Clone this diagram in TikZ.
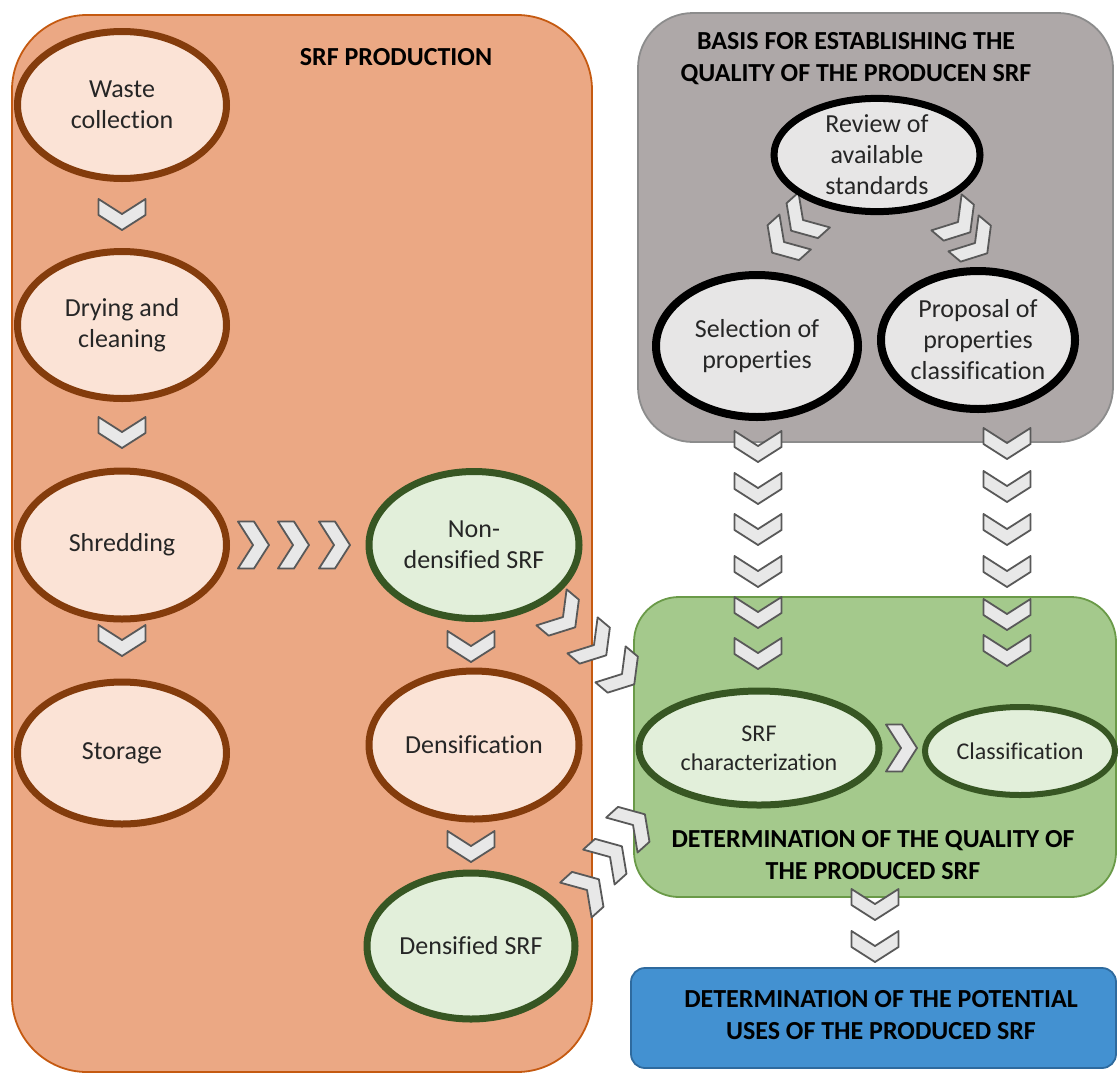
\documentclass[tikz,border=0pt]{standalone}
\usepackage{fontspec}
\setmainfont{Carlito}[Ligatures=NoCommon]
\usetikzlibrary{shapes.geometric}
\definecolor{orfill}{HTML}{EBA884}
\definecolor{orline}{HTML}{C55A11}
\definecolor{peach}{HTML}{FBE3D6}
\definecolor{brown}{HTML}{843C0C}
\definecolor{lgreen}{HTML}{E2EFDA}
\definecolor{dgreen}{HTML}{375623}
\definecolor{grfill}{HTML}{AEA8A8}
\definecolor{grline}{HTML}{8C8C8C}
\definecolor{lgray}{HTML}{E7E6E6}
\definecolor{gnfill}{HTML}{A4C98C}
\definecolor{gnline}{HTML}{6A9A48}
\definecolor{blfill}{HTML}{4391D1}
\definecolor{blline}{HTML}{2E6A9E}
\definecolor{chfill}{HTML}{E8E8E8}
\definecolor{chline}{HTML}{595959}
\definecolor{txt}{HTML}{262626}
\tikzset{
  region/.style={draw, line width=1.8pt, rounded corners=#1},
  ell/.style={ellipse, line width=7pt, inner sep=0pt, align=center, text=txt,
    font=\fontsize{26}{31}\selectfont},
  orell/.style={ell, draw=brown, fill=peach},
  gnell/.style={ell, draw=dgreen, fill=lgreen},
  grell/.style={ell, draw=black, fill=lgray},
  title/.style={align=center, font=\bfseries\fontsize{26}{32}\selectfont, text=black},
  chevstyle/.style={draw=chline, fill=chfill, line width=1.8pt, line join=round},
  chev/.pic={\path[chevstyle] (-15,23.5)--(1,23.5)--(16,0)--(1,-23.5)--(-15,-23.5)--(0,0)--cycle;}
}
\begin{document}
\begin{tikzpicture}[x=1pt,y=-1pt]
\useasboundingbox (0,0) rectangle (1118,1074);
% regions
\path[region=75, draw=orline, fill=orfill] (12,15) rectangle (592,1072);
\path[region=55, draw=grline, fill=grfill] (638,13) rectangle (1113,442);
\path[region=45, draw=gnline, fill=gnfill] (634,597) rectangle (1116,897);
\path[region=14, draw=blline, fill=blfill] (631,968) rectangle (1116,1068);
% titles
\node[title] (t1) at (396,57) {SRF PRODUCTION};
\node[title] (t2) at (856,59) {BASIS FOR ESTABLISHING THE\\QUALITY OF THE PRODUCEN SRF};
\node[title] (t3) at (873,855) {DETERMINATION OF THE QUALITY OF\\THE PRODUCED SRF};
\node[title] (t4) at (881,1015) {DETERMINATION OF THE POTENTIAL\\USES OF THE PRODUCED SRF};
% chevrons (down)
\foreach \x/\y in {122/214, 122/432, 122/640, 471/646, 471/846,
  758/446, 758/488, 758/529, 758/571, 758/612, 758/653,
  1007/443, 1007/486, 1007/529, 1007/571, 1007/614, 1007/650,
  875/904, 875/946}
  \pic[rotate=-90] at (\x,\y) {chev};
% chevrons (right)
\foreach \x/\y in {253/545, 293/545, 334/545, 901/748}
  \pic at (\x,\y) {chev};
% diagonal chevrons
\foreach \x/\y in {563/617, 594/645, 622/674, 958/222, 975/243}
  \pic[rotate=-40] at (\x,\y) {chev};
\foreach \x/\y in {633/825, 610/857, 587/890}
  \pic[rotate=42] at (\x,\y) {chev};
\foreach \x/\y in {803/220, 784/242}
  \pic[rotate=-138] at (\x,\y) {chev};
% ellipses
\node[orell, minimum width=209, minimum height=147] (waste) at (122,105) {Waste\\collection};
\node[orell, minimum width=209, minimum height=147] (dry) at (122,325) {Drying and\\cleaning};
\node[orell, minimum width=209, minimum height=148] (shred) at (122,545) {Shredding};
\node[orell, minimum width=209, minimum height=142] (store) at (122,753) {Storage};
\node[gnell, minimum width=210, minimum height=147] (nonden) at (474,545) {Non-\\densified SRF};
\node[orell, minimum width=210, minimum height=148] (densif) at (474,745) {Densification};
\node[gnell, minimum width=208, minimum height=146] (densrf) at (471,946) {Densified SRF};
\node[grell, minimum width=206, minimum height=106] (review) at (877,155) {Review of\\available\\standards};
\node[grell, minimum width=202, minimum height=142, line width=8pt] (select) at (757,346) {Selection of\\properties};
\node[grell, minimum width=194, minimum height=138, line width=8pt] (propos) at (978,340) {Proposal of\\properties\\classification};
\node[gnell, minimum width=240, minimum height=114, font=\fontsize{24}{29}\selectfont] (char) at (759,748) {SRF\\characterization};
\node[gnell, minimum width=190, minimum height=88, line width=6pt, font=\fontsize{24}{29}\selectfont] (class) at (1020,751) {Classification};
\end{tikzpicture}
\end{document}
